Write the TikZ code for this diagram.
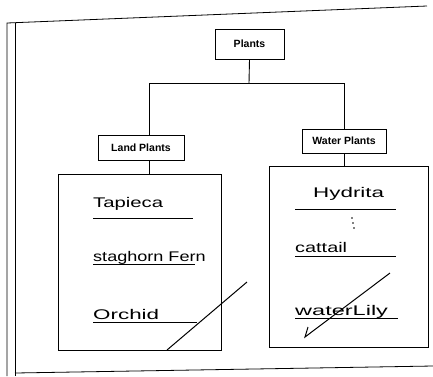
\documentclass[tikz,border=0pt]{standalone}
\usepackage{fontspec}
\usepackage{graphicx}
\newfontfamily\labelfont{Liberation Sans}
\newfontfamily\handfont{Liberation Sans}
\usetikzlibrary{calc}

% Stretch a handwritten word sideways
\newcommand{\handword}[2]{\scalebox{#1}[1]{#2}}

\begin{document}
\begin{tikzpicture}[x=1pt, y=-1pt,
    % Define the style for the small title boxes
    labelbox/.style={draw, line width=0.9pt, fill=white, inner sep=0pt,
        font=\labelfont\bfseries\fontsize{10.5}{11}\selectfont},
    % Define the style for the big list boxes
    listbox/.style={draw, line width=1pt, inner sep=0pt},
    % Define the style for the handwritten entries
    entry/.style={anchor=base west, inner sep=0pt, font=\handfont\fontsize{14}{14}\selectfont},
    rule/.style={line width=0.9pt}
]
\useasboundingbox (0,0) rectangle (433,376);

% Frame of the page
\coordinate (F1) at (7,376);
\coordinate (F2) at (7,23);
\coordinate (F3) at (427,6);
\coordinate (F4) at (15,376);
\coordinate (F5) at (15,23);
\coordinate (F6) at (15,373);
\coordinate (F7) at (433,366);
\draw[line width=0.8pt] (F1) -- (F2) -- (F3);
\draw[line width=0.8pt] (F4) -- (F5);
\draw[line width=0.8pt] (F6) -- (F7);

% Title boxes
\node[labelbox, minimum width=69, minimum height=30] (plants) at (249.5,44) {Plants};
\node[labelbox, minimum width=86, minimum height=25] (land) at (141,147.5) {Land Plants};
\node[labelbox, minimum width=84, minimum height=24] (water) at (344,141) {Water Plants};

% List boxes
\node[listbox, minimum width=163, minimum height=176] (landlist) at (139.5,262) {};
\node[listbox, minimum width=159, minimum height=181] (waterlist) at (348.5,256.5) {};

% Draw the tree lines
\coordinate (fork) at (249,83);
\draw[line width=0.9pt] (plants.south) -- (fork);
\draw[line width=0.9pt] (fork) -| ([xshift=8]land.north);
\draw[line width=0.9pt] (fork) -| (water.north);
\draw[line width=0.9pt] ([xshift=8]land.south) -- ([xshift=8]land.south |- landlist.north);
\draw[line width=0.9pt] (water.south) -- (water.south |- waterlist.north);

% Land plants entries
\node[entry] (tapieca) at (93,207) {\handword{1.45}{Tapieca}};
\node[entry] (staghorn) at (93,261) {\handword{1.29}{staghorn Fern}};
\node[entry] (orchid) at (93,319) {\handword{1.6}{Orchid}};
\draw[rule] (93,218) -- (193,218);
\draw[rule] (93,264) -- (195,264);
\draw[rule] (93,322) -- (197,322);

% Water plants entries
\node[entry] (hydrita) at (313,197) {\handword{1.6}{Hydrita}};
\node[entry] (cattail) at (295,252) {\handword{1.42}{cattail}};
\node[entry] (waterlily) at (295,315) {\handword{1.68}{waterLily}};
\draw[rule] (295,209) -- (396,209);
\draw[rule] (295,256) -- (396,256);
\draw[rule] (295,318) -- (398,318);
\fill (352,218) circle (0.8);
\fill (353,223) circle (0.8);
\fill (354,228) circle (0.8);

% Check marks
\draw[line width=1pt] (167,350) -- (247,282);
\draw[line width=1pt] (308,327) -- (305,337) -- (390,273);

\end{tikzpicture}
\end{document}
